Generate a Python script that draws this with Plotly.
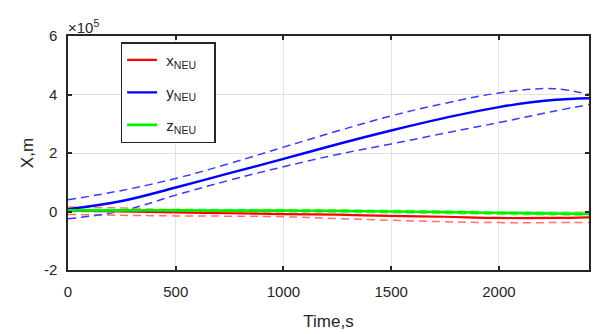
import plotly.graph_objects as go

# ---- data (values in units of 1e5 m) ----
time_s = [0, 250, 500, 750, 1000, 1250, 1500, 1750, 2000, 2250, 2420]

x_neu = [0.03, 0.00, -0.03, -0.06, -0.09, -0.11, -0.15, -0.18, -0.22, -0.22, -0.20]
x_neu_up = [0.15, 0.12, 0.05, 0.02, 0.00, -0.02, -0.03, -0.05, -0.07, -0.08, -0.08]
x_neu_lo = [-0.10, -0.13, -0.15, -0.16, -0.18, -0.24, -0.30, -0.35, -0.38, -0.38, -0.38]

y_neu = [0.08, 0.36, 0.82, 1.31, 1.80, 2.30, 2.77, 3.20, 3.57, 3.81, 3.87]
y_neu_up = [0.40, 0.72, 1.13, 1.64, 2.20, 2.75, 3.27, 3.70, 4.05, 4.20, 4.00]
y_neu_lo = [-0.25, 0.02, 0.56, 1.07, 1.53, 1.95, 2.31, 2.68, 3.04, 3.42, 3.66]

z_neu = [0.04, 0.04, 0.04, 0.03, 0.03, 0.02, 0.00, -0.02, -0.05, -0.07, -0.08]
z_neu_up = [0.08, 0.08, 0.08, 0.07, 0.07, 0.06, 0.04, 0.02, -0.01, -0.03, -0.04]
z_neu_lo = [-0.01, -0.01, -0.01, -0.02, -0.02, -0.03, -0.05, -0.07, -0.10, -0.12, -0.13]

y_ticks = [-2, 0, 2, 4, 6]
y_tick_text = ["-2", "0", "2", "4", "6"]
x_ticks = [0, 500, 1000, 1500, 2000]
x_tick_text = ["0", "500", "1000", "1500", "2000"]
legend_names = ["x<sub>NEU</sub>", "y<sub>NEU</sub>", "z<sub>NEU</sub>"]

FONT = "Liberation Sans, Arial, sans-serif"
INK = "#262626"
PAD_L = "\u00a0"
PAD_R = "\u00a0\u00a0\u00a0"
fig = go.Figure()

def dashed(y, color, name):
    fig.add_trace(go.Scatter(x=time_s, y=y, mode="lines",
                             line=dict(color=color, width=1.5, dash="8px,5px", shape="spline", smoothing=1.1),
                             showlegend=False, name=name, hoverinfo="skip"))

dashed(x_neu_up, "#ff7070", "x up")
dashed(x_neu_lo, "#ff7070", "x lo")
dashed(y_neu_up, "#3a3aff", "y up")
dashed(y_neu_lo, "#3a3aff", "y lo")
dashed(z_neu_up, "#70ff70", "z up")
dashed(z_neu_lo, "#70ff70", "z lo")

fig.add_trace(go.Scatter(x=time_s, y=x_neu, mode="lines", name=PAD_L + legend_names[0] + PAD_R, legendgroup="a",
                         line=dict(color="#ff0000", width=2.2, shape="spline", smoothing=1.1)))
fig.add_trace(go.Scatter(x=time_s, y=y_neu, mode="lines", name=PAD_L + legend_names[1] + PAD_R, legendgroup="b",
                         line=dict(color="#0000ff", width=2.4, shape="spline", smoothing=1.1)))
fig.add_trace(go.Scatter(x=time_s, y=z_neu, mode="lines", name=PAD_L + legend_names[2] + PAD_R, legendgroup="c",
                         line=dict(color="#00ee00", width=2.6, shape="spline", smoothing=1.1)))

axis_common = dict(showline=True, linecolor=INK, linewidth=1.5, mirror="ticks",
                   ticks="inside", ticklen=4, tickcolor=INK, tickwidth=1.5,
                   showgrid=True, gridcolor="#e3e3e3", gridwidth=1, zeroline=False,
                   tickfont=dict(family=FONT, size=15, color=INK))

fig.update_xaxes(range=[0, 2418], tickvals=x_ticks, ticktext=x_tick_text, ticklabelstandoff=7,
                 title=dict(text="Time,s", font=dict(family=FONT, size=17, color=INK), standoff=16),
                 **axis_common)
fig.update_yaxes(range=[-2, 6], tickvals=y_ticks, ticktext=y_tick_text, ticklabelstandoff=6,
                 title=dict(text="X,m", font=dict(family=FONT, size=17, color=INK), standoff=6),
                 **axis_common)

fig.add_annotation(x=0, y=1, xref="paper", yref="paper", xanchor="left", yanchor="bottom",
                   text="×10<sup>5</sup>", showarrow=False, yshift=-2, xshift=-2,
                   font=dict(family=FONT, size=15, color=INK))

fig.update_layout(
    width=593, height=334,
    margin=dict(l=68, r=2, t=36, b=64),
    paper_bgcolor="white", plot_bgcolor="white",
    showlegend=True,
    legend=dict(x=0.101, y=0.974, xanchor="left", yanchor="top",
                bgcolor="white", bordercolor=INK, borderwidth=1.5,
                font=dict(family=FONT, size=15, color=INK),
                tracegroupgap=10, traceorder="grouped"),
)

fig.write_html("out.html")
